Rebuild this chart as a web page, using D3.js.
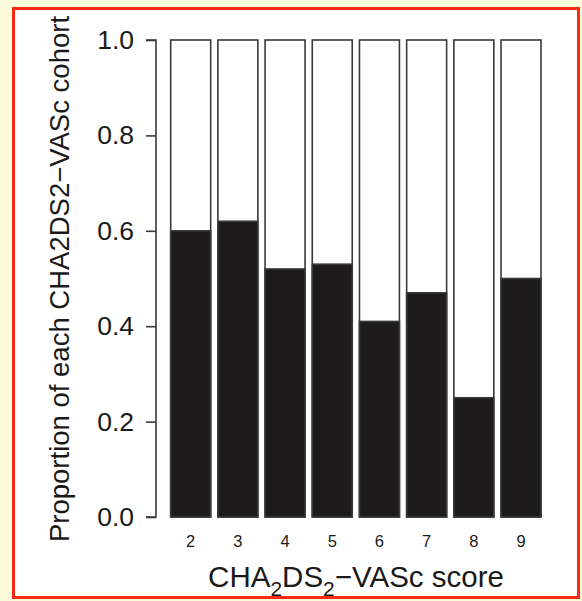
<!DOCTYPE html>
<html>
<head>
<meta charset="utf-8">
<script src="https://cdn.jsdelivr.net/npm/d3@7"></script>
<style>
  html, body { margin: 0; padding: 0; background: #fdfadc; }
  svg { display: block; }
  text { font-family: "Liberation Sans", Arial, Helvetica, sans-serif; fill: #1a1a1a; }
</style>
</head>
<body>
<svg id="chart" width="582" height="601"></svg>
<script>
// CHA2DS2-VASc score cohorts and the proportion in each (dark segment)
const scores = ["2", "3", "4", "5", "6", "7", "8", "9"];
const proportions = [0.60, 0.62, 0.52, 0.53, 0.41, 0.47, 0.25, 0.50];
const yTicks = [0, 0.2, 0.4, 0.6, 0.8, 1.0];

const svg = d3.select("#chart");

// framed white panel
svg.append("rect")
  .attr("x", 13.5).attr("y", 8.5)
  .attr("width", 565).attr("height", 589)
  .attr("fill", "#ffffff")
  .attr("stroke", "#fb2a12")
  .attr("stroke-width", 3);

const y = d3.scaleLinear().domain([0, 1]).range([517, 40]);
const x = d3.scaleBand().domain(scores).range([170.7, 541]).paddingInner(0.153).paddingOuter(0);

const stroke = "#3a3a3a";

// full-height bars (remainder, white)
svg.append("g").selectAll("rect")
  .data(scores)
  .join("rect")
  .attr("x", d => x(d))
  .attr("y", y(1))
  .attr("width", x.bandwidth())
  .attr("height", y(0) - y(1))
  .attr("fill", "#ffffff")
  .attr("stroke", stroke)
  .attr("stroke-width", 1.6);

// proportion segment (black)
svg.append("g").selectAll("rect")
  .data(proportions)
  .join("rect")
  .attr("x", (d, i) => x(scores[i]))
  .attr("y", d => y(d))
  .attr("width", x.bandwidth())
  .attr("height", d => y(0) - y(d))
  .attr("fill", "#1d1b1b")
  .attr("stroke", stroke)
  .attr("stroke-width", 1.6);

// y axis
const yAxis = svg.append("g")
  .attr("transform", "translate(156,0)")
  .call(d3.axisLeft(y).tickValues(yTicks).tickFormat(d3.format(".1f")).tickSize(10).tickPadding(12));
yAxis.select(".domain").attr("stroke", stroke).attr("stroke-width", 1.6).attr("d", `M-10,${y(1)}H0V${y(0)}H-10`);
yAxis.selectAll(".tick line").attr("stroke", stroke).attr("stroke-width", 1.6);
yAxis.selectAll(".tick text").attr("font-size", 26.5).attr("fill", "#1a1a1a")
  .style("font-family", "'Liberation Sans', Arial, sans-serif");

// x tick labels
svg.append("g").selectAll("text")
  .data(scores)
  .join("text")
  .attr("x", d => x(d) + x.bandwidth() / 2)
  .attr("y", 547)
  .attr("text-anchor", "middle")
  .attr("font-size", 16.5)
  .text(d => d);

// x axis title with subscripts
const xt = svg.append("text")
  .attr("x", 356)
  .attr("y", 587)
  .attr("text-anchor", "middle")
  .attr("font-size", 29.5);
xt.append("tspan").text("CHA");
xt.append("tspan").attr("font-size", 21).attr("dy", 9).text("2");
xt.append("tspan").attr("dy", -9).text("DS");
xt.append("tspan").attr("font-size", 21).attr("dy", 9).text("2");
xt.append("tspan").attr("dy", -9).text("\u2212VASc score");

// y axis title
svg.append("text")
  .attr("transform", "translate(69,279) rotate(-90)")
  .attr("text-anchor", "middle")
  .attr("font-size", 27.5)
  .text("Proportion of each CHA2DS2\u2212VASc cohort");
</script>
</body>
</html>
